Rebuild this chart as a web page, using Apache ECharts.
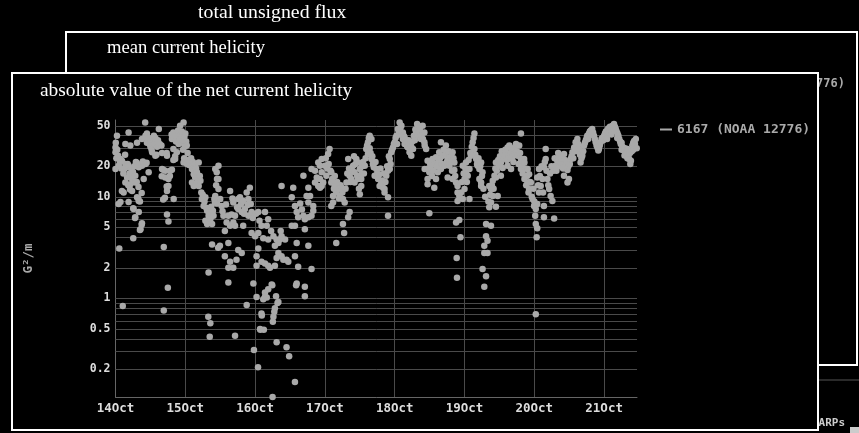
<!DOCTYPE html>
<html><head><meta charset="utf-8">
<script src="https://cdn.jsdelivr.net/npm/echarts@6/dist/echarts.min.js"></script>
<style>html,body{margin:0;padding:0;background:#000;}#c{width:859px;height:433px;}</style>
</head><body><div id="c"></div>
<script>
const seriesName = '6167 (NOAA 12776)';
const yearNum = 2020, monthIdx = 9;
const xStartDay = 14;
const xEnd = [21, 11, 18];
const gridValues = [0.2,0.3,0.4,0.5,0.6,0.7,0.8,0.9,1,2,3,4,5,6,7,8,9,10,20,30,40,50];
const majorTicks = [0.2,0.5,1,2,5,10,20,50];

// [hour of day, |net current helicity| G^2/m]
const oct14 = [[0.0,30.6],[0.0,27.4],[0.0,18.8],[0.1,34],[0.3,24],[0.5,40],[0.6,29],[0.9,25.4],[1.1,20.2],[1.1,8.5],[1.3,3.1],[1.5,22],[1.7,23.5],[1.7,8.9],[2.0,19],[2.2,22.6],[2.2,11.4],[2.5,0.84],[2.7,17],[2.8,11],[3.0,18.8],[3.3,26],[3.4,21],[3.4,33],[3.4,13.8],[3.8,19.5],[4.0,15.5],[4.2,21],[4.4,13],[4.5,43],[4.5,20.2],[4.5,8.9],[4.8,17],[5.0,11.8],[5.1,32],[5.1,16.8],[5.1,13.3],[5.4,19],[5.7,15],[5.7,11.4],[6.0,17.5],[6.1,7.7],[6.1,3.9],[6.2,7.6],[6.5,20],[6.7,6.2],[6.8,16.1],[6.8,13.8],[6.8,6.3],[7.0,22],[7.3,21.6],[7.3,14],[7.4,34],[7.4,9.9],[7.8,9.7],[7.9,12.5],[8.0,19.5],[8.0,9.1],[8.0,7.1],[8.0,20.7],[8.4,4.7],[8.4,9.0],[8.6,4.8],[9.0,10.9],[9.0,5.3],[9.1,37],[9.1,20.2],[9.1,5.5],[9.4,22.3],[9.7,15],[10.2,54],[10.3,40],[10.3,21],[10.7,21.6],[10.8,42],[10.8,34],[11.2,36],[11.4,38],[11.4,17.4],[11.7,33],[12.0,34],[12.0,31],[12.4,29],[12.6,37],[12.6,27.4],[13.0,35],[13.2,40],[13.2,33],[13.7,38],[13.7,25.4],[14.1,26],[14.3,31],[14.6,36],[14.9,46.6],[15.2,33],[15.8,32],[15.9,15.9],[16.0,27],[16.0,18.8],[16.4,18.5],[16.4,9.4],[16.6,3.2],[16.6,0.76],[17.0,9.8],[17.1,18],[17.1,15.5],[17.6,12.6],[17.6,27],[17.7,25.4],[17.7,11.4],[17.7,6.7],[18.0,1.27],[18.2,15],[18.2,12.8],[18.2,5.7],[18.7,16],[18.8,18],[19.3,41],[19.4,37],[19.4,18.5],[19.9,43],[19.9,38],[19.9,29.6],[19.9,23],[20.0,9.5],[20.5,23.5],[20.5,25],[20.8,35],[21.1,40],[21.1,27.4],[21.5,45],[21.7,33],[22.2,50],[22.2,37],[22.5,41],[22.8,44],[23.0,34],[23.2,29],[23.4,54],[23.4,36],[23.4,21.8],[23.6,24],[23.7,39],[23.8,31]];
const oct15 = [[0.0,42],[0.3,35],[0.5,32],[0.6,21],[0.8,27],[1.0,23],[1.3,20.5],[1.7,21.8],[2.0,24],[2.3,18.8],[2.3,13.8],[2.6,22],[2.9,16.7],[2.9,12.8],[3.1,20],[3.4,21],[3.4,15.5],[3.7,19],[4.0,17.4],[4.3,14],[4.6,21.8],[4.6,12.8],[5.0,16],[5.2,14.4],[5.5,11],[5.7,9.5],[6.0,10.5],[6.3,8.1],[6.6,9],[6.9,9.9],[6.9,5.8],[7.2,7.8],[7.5,7.3],[7.5,5.4],[7.9,0.66],[8.0,6.5],[8.0,1.8],[8.3,7],[8.4,0.42],[8.6,6],[8.6,0.57],[8.9,8],[9.2,5.4],[9.2,3.4],[9.5,7.3],[9.7,6.5],[10.0,9.5],[10.2,8.8],[10.3,18.8],[10.3,10.2],[10.6,13],[10.8,17.4],[10.9,15],[10.9,8.6],[11.3,3.15],[11.4,20.2],[11.4,15],[11.4,11.9],[11.9,3.3],[12.0,9.5],[12.5,8.1],[12.8,7.2],[13.1,6.5],[13.6,4.6],[13.6,2.6],[14.0,8.4],[14.2,5.6],[14.8,6.5],[14.8,3.5],[14.8,2.0],[14.8,1.43],[15.4,11.4],[15.4,5.2],[15.4,2.3],[15.9,6.7],[16.2,9.6],[16.5,8.8],[16.5,5.6],[16.5,2.0],[17.1,6.5],[17.1,5.2],[17.1,0.43],[17.6,2.4],[17.8,7.9],[18.2,9.5],[18.2,7.6],[18.2,3.0],[18.8,9.9],[19.1,8.4],[19.4,7.1],[19.4,2.8],[19.9,9.1],[19.9,5.2],[20.2,6.8],[20.5,7.6],[21.1,11],[21.1,0.86],[21.4,8.3],[21.7,9.5],[21.7,6.5],[22.2,12.3],[22.5,8.5],[22.8,7.1],[22.8,4.4],[23.2,6.2],[23.4,1.4],[23.6,0.31]];
const oct16 = [[0.0,4.1],[0.3,6.8],[0.5,2.6],[0.5,2.1],[0.5,1.03],[1.0,0.21],[1.1,7.1],[1.1,4.4],[1.1,3.1],[1.5,5.8],[1.7,0.5],[1.8,0.49],[2.2,5.2],[2.2,2.3],[2.2,0.71],[2.3,0.68],[2.8,3.9],[2.8,0.98],[3.0,0.49],[3.4,7.1],[3.4,2.2],[3.4,1.14],[3.4,1.04],[4.0,5.2],[4.0,1.02],[4.5,6.0],[4.5,3.8],[4.5,2.1],[4.5,1.23],[5.1,2.0],[5.5,4.6],[5.7,1.37],[5.9,1.35],[6.0,0.107],[6.1,0.59],[6.3,4.1],[6.3,0.66],[6.6,0.74],[6.8,3.3],[6.8,2.1],[6.8,0.8],[7.2,1.05],[7.4,3.8],[7.4,2.5],[7.4,0.37],[7.7,0.9],[8.0,3.5],[8.0,2.8],[8.0,0.92],[8.5,3.8],[8.8,4.6],[9.1,4.1],[9.1,2.6],[9.1,12.8],[9.7,2.4],[10.3,3.8],[10.8,2.4],[10.8,0.33],[11.4,2.3],[11.7,0.27],[12.6,9.9],[12.6,5.2],[13.1,12.3],[13.7,8.1],[13.7,5.2],[13.7,2.6],[13.7,0.15],[14.1,1.35],[14.3,7.1],[14.3,3.5],[14.3,1.4],[14.8,6.3],[14.8,2.05],[15.5,8.6],[16.1,7.5],[16.6,16.1],[16.6,6.5],[17.1,6],[17.1,4.8],[17.1,1.3],[17.1,1.05],[17.7,10.2],[18.3,12.3],[18.3,8.8],[18.3,6.3],[18.3,3.3],[18.9,10.2],[19.4,18.8],[19.4,6.5],[19.4,1.95],[20.0,8.1],[20.0,7.3],[20.6,18],[20.6,13.8],[21.2,15.5],[21.7,21.8],[21.7,12.8],[22.3,20.2],[22.3,15],[22.3,12.3],[22.9,17.4],[22.9,12.8],[22.9,23.5],[23.4,13.8]];
const oct17 = [[0.0,20.2],[0.3,24],[0.5,16.1],[0.8,19],[1.1,26.4],[1.3,21],[1.6,29.6],[1.9,18],[2.2,17.4],[2.2,13.8],[2.2,8.1],[2.5,15],[2.8,10.2],[2.8,8.8],[3.1,12],[3.4,12.8],[3.4,16],[3.9,11],[3.9,3.5],[4.2,14],[4.5,11.9],[4.8,9.6],[5.1,10.2],[5.4,13],[5.7,12.3],[6.0,11],[6.2,9.5],[6.2,5.4],[6.6,4.4],[6.8,8.8],[7.1,12],[7.4,13.8],[7.7,17],[8.0,23.5],[8.0,6.3],[8.3,19],[8.5,16.1],[8.5,7.1],[8.8,14],[9.1,15],[9.4,18],[9.7,20.2],[10.0,25],[10.2,17.4],[10.2,13.8],[10.5,21],[10.8,23.5],[11.1,16],[11.4,21.8],[11.4,15],[11.7,12],[12.0,18.8],[12.0,10.6],[12.5,16.7],[12.5,15],[12.5,12.8],[12.8,20],[13.1,22],[13.4,17],[13.7,20.2],[14.0,24],[14.2,29.6],[14.5,32],[14.8,34.4],[14.8,26.4],[15.1,38],[15.4,40],[15.4,30],[15.7,27],[16.0,37],[16.0,23.5],[16.3,25],[16.5,21],[16.8,19.5],[17.1,16.1],[17.4,22],[17.7,18.8],[18.0,17],[18.3,15],[18.6,16.5],[18.8,12.8],[19.1,19],[19.4,13.8],[19.7,14.5],[20.0,12.3],[20.3,17],[20.5,11.9],[20.5,11],[20.8,14],[21.1,16.1],[21.4,20],[21.7,18],[21.7,9.9],[21.7,6.5],[22.0,25],[22.3,18.8],[22.3,23.5],[22.6,21],[22.8,27.4],[23.1,29],[23.4,30.6],[23.7,33]];
const oct18 = [[0.0,34.4],[0.3,38],[0.6,40],[0.8,33],[1.1,46.6],[1.4,44],[1.7,54],[1.7,41],[2.0,48],[2.3,50],[2.5,42],[2.8,43],[2.8,37],[3.1,40],[3.4,38.5],[3.4,33],[3.7,36],[4.0,34.4],[4.3,31],[4.6,30.6],[4.8,36],[5.1,27.4],[5.4,33],[5.7,25.4],[5.7,31],[6.0,35],[6.3,29.6],[6.6,40],[6.9,36],[7.1,46],[7.4,43],[7.7,52],[8.0,50],[8.0,40],[8.3,44],[8.6,46.6],[8.9,38],[9.0,37],[9.2,40],[9.6,50],[9.7,37],[10.2,43],[10.2,34.4],[10.3,31.9],[10.3,18.8],[10.8,29.6],[11.3,22.6],[11.3,15],[11.3,13.3],[11.6,19],[11.9,17.4],[11.9,6.9],[12.2,21],[12.5,20.2],[12.8,16],[13.0,23.5],[13.3,18],[13.6,12.3],[13.9,21],[14.2,24.5],[14.2,15],[14.5,20],[14.8,17.4],[15.0,22],[15.3,27.4],[15.6,24],[15.9,34.4],[15.9,18.8],[16.2,21],[16.5,25.4],[16.8,29],[17.1,20.2],[17.4,26],[17.6,31.9],[17.9,22],[18.2,23.5],[18.2,15.5],[18.5,28],[18.8,20.2],[19.1,22],[19.4,25.4],[19.7,18],[19.9,27.4],[19.9,15],[20.2,24],[20.5,21.8],[20.5,18.4],[20.8,16],[21.1,13.8],[21.1,5.6],[21.3,2.5],[21.4,1.6],[21.6,12.8],[21.6,11],[21.6,9.1],[22.2,10.2],[22.2,5.9],[22.6,4.0],[22.8,11],[23.1,14],[23.4,9.5],[23.4,20.2],[23.7,17]];
const oct19 = [[0.0,11.9],[0.0,15],[0.3,19],[0.5,17.4],[0.5,21.8],[0.8,14],[1.1,16.1],[1.4,23],[1.7,18.8],[1.7,9.5],[2.0,27],[2.2,25.4],[2.5,31],[2.8,34.4],[3.1,38],[3.4,42],[3.4,29.6],[3.7,26],[4.0,23.5],[4.3,21],[4.5,20.2],[4.8,24],[5.1,18.8],[5.1,15],[5.4,20],[5.7,21.8],[5.7,13.8],[5.7,12.8],[6.0,16],[6.2,17.4],[6.2,1.95],[6.5,12],[6.8,3.3],[6.8,2.8],[6.8,1.3],[7.1,10],[7.4,5.4],[7.4,4.1],[7.4,1.65],[7.9,3.7],[7.9,2.8],[8.2,9],[8.5,12.8],[8.5,7.9],[8.8,10.5],[9.1,11.9],[9.1,8.8],[9.1,5.2],[9.4,13],[9.7,14.4],[9.7,10.2],[10.0,12],[10.3,16.1],[10.6,19],[10.8,15.5],[10.8,8.0],[10.8,21.8],[11.1,18],[11.4,10.2],[11.6,23],[11.9,20.2],[12.2,25],[12.5,21.8],[12.5,16.1],[12.8,28],[13.1,19.2],[13.4,24],[13.7,25.4],[14.0,29],[14.3,27],[14.6,23],[14.8,30.6],[14.8,20.2],[15.1,26],[15.4,32],[15.7,24],[16.0,27.4],[16.0,18.8],[16.3,30],[16.6,25],[16.8,22],[17.1,29.6],[17.4,26],[17.7,33],[18.0,28],[18.3,25.4],[18.6,21],[18.8,31.9],[19.1,27],[19.4,42],[19.4,23.5],[19.4,18.8],[19.7,20],[20.0,17],[20.3,22],[20.5,23.5],[20.6,21.8],[20.6,15],[20.9,19],[21.2,13],[21.5,16],[21.7,13.8],[21.7,18.8],[22.0,11],[22.2,16.7],[22.2,11.9],[22.5,14],[22.8,13.8],[23.1,10],[23.4,9.5],[23.7,12],[23.9,8.1]];
const oct20 = [[0.0,9],[0.3,6.5],[0.5,7.6],[0.5,5.4],[0.5,0.7],[0.8,4.0],[1.0,8.5],[1.0,15.5],[1.0,4.9],[1.3,13],[1.6,11],[1.6,18.8],[1.9,16],[2.2,12.8],[2.5,20],[2.8,15],[3.0,11],[3.3,19.5],[3.3,8.1],[3.3,6.3],[3.6,22],[3.9,23.5],[3.9,29.6],[4.2,18],[4.5,15],[4.8,13],[5.1,11.9],[5.4,17],[5.6,10.2],[5.9,20],[6.2,9.1],[6.5,18],[6.8,6.1],[7.0,24],[7.3,20.2],[7.6,18],[7.9,22.6],[8.2,27],[8.5,24.5],[8.8,20],[9.1,21.8],[9.4,24],[9.6,21],[9.9,19],[10.2,26.4],[10.2,16.1],[10.5,23],[10.8,20.2],[11.1,22],[11.4,18.4],[11.4,13.8],[11.7,20],[11.9,15],[12.2,21],[12.5,23.5],[12.8,25],[13.1,27.4],[13.4,24],[13.7,30.6],[14.0,28],[14.2,34.4],[14.5,31],[14.8,37],[15.1,33],[15.4,29.6],[15.7,26],[15.9,21.8],[16.2,24],[16.5,25.4],[16.8,28],[17.1,31.9],[17.4,34],[17.7,36],[18.0,38],[18.2,40],[18.5,37],[18.8,42],[19.1,44],[19.4,45],[19.6,41],[19.9,46.6],[20.2,43],[20.5,40],[20.8,37],[21.1,34.4],[21.4,32],[21.7,30.6],[22.0,28.5],[22.2,29.6],[22.5,32],[22.8,34.4],[23.1,37],[23.4,38],[23.7,36]];
const oct21 = [[0.0,40],[0.3,42],[0.6,44],[0.9,41],[1.0,37],[1.15,45],[1.4,47],[1.7,43],[2.0,49],[2.3,48],[2.5,41],[2.6,45],[2.9,50],[3.2,47],[3.4,52],[3.7,49],[4.0,46.6],[4.3,44],[4.5,38],[4.6,42],[4.9,40],[5.2,37],[5.5,35],[5.7,33],[6.0,34],[6.0,29],[6.3,31],[6.6,30],[6.9,28.5],[7.0,25.5],[7.2,30],[7.5,26.4],[7.8,28],[8.0,29.6],[8.0,24],[8.3,25],[8.6,23.5],[8.9,27],[9.0,21],[9.2,22.6],[9.5,28],[9.7,31.9],[10.0,34],[10.0,29],[10.3,35.5],[10.6,33],[10.9,37],[11.2,30]];

const days = [[14,oct14],[15,oct15],[16,oct16],[17,oct17],[18,oct18],[19,oct19],[20,oct20],[21,oct21]];
const points = [];
days.forEach(([d, arr]) => arr.forEach(([h, v]) => points.push([Date.UTC(yearNum, monthIdx, d) + h * 3600000, v])));

const mono = '"DejaVu Sans Mono", monospace';
const serif = '"Liberation Serif", serif';

const chart = echarts.init(document.getElementById('c'), null, {renderer: 'canvas'});
chart.setOption({
  backgroundColor: '#000',
  animation: false,
  grid: {left: 115.5, top: 120, right: 222, bottom: 36, containLabel: false},
  legend: {
    data: [seriesName], left: 655, top: 118, icon: 'rect', itemWidth: 12, itemHeight: 2,
    textStyle: {color: '#aaa', fontFamily: mono, fontWeight: 'bold', fontSize: 13}
  },
  xAxis: {
    type: 'value',
    min: Date.UTC(yearNum, monthIdx, xStartDay),
    max: Date.UTC(yearNum, monthIdx, xEnd[0], xEnd[1], xEnd[2]),
    interval: 86400000,
    axisLine: {show: true, lineStyle: {color: '#666', width: 1}},
    axisTick: {show: false},
    axisLabel: {
      show: true, showMaxLabel: false, margin: 5,
      color: '#ddd', fontFamily: mono, fontWeight: 'bold', fontSize: 12.5,
      formatter: v => new Date(v).getUTCDate() + 'Oct'
    },
    splitLine: {show: true, showMaxLine: false, lineStyle: {color: '#4a4a4a', width: 1}}
  },
  yAxis: {
    type: 'log', logBase: 10, min: 0.107, max: 57,
    name: 'G²/m', nameLocation: 'middle', nameGap: 80, nameRotate: 90,
    nameTextStyle: {color: '#aaa', fontFamily: mono, fontWeight: 'bold', fontSize: 12.5},
    axisLine: {show: true, lineStyle: {color: '#666', width: 1}},
    axisTick: {show: false},
    axisLabel: {show: false},
    splitLine: {show: false},
    minorSplitLine: {show: false}
  },
  series: [{
    name: seriesName,
    type: 'scatter',
    data: points,
    symbol: 'circle',
    symbolSize: 6.5,
    itemStyle: {color: '#a9a9a9', opacity: 1},
    z: 10,
    markLine: {
      silent: true, symbol: 'none', z: 1, animation: false,
      lineStyle: {color: '#4a4a4a', width: 1, type: 'solid'},
      label: {
        show: true, position: 'start', distance: 5,
        color: '#ddd', fontFamily: mono, fontWeight: 'bold', fontSize: 11.5,
        formatter: p => majorTicks.includes(p.value) ? String(p.value) : ''
      },
      emphasis: {disabled: true},
      data: gridValues.map(v => ({yAxis: v}))
    }
  }],
  graphic: [
    {type: 'text', z: -20, x: 198, y: 13, style: {text: 'total unsigned flux', fill: '#fff', fontFamily: serif, fontSize: 19.8, verticalAlign: 'middle'}},
    {type: 'rect', z: -19, shape: {x: 66, y: 32, width: 791, height: 333}, style: {fill: '#000', stroke: '#fff', lineWidth: 2}},
    {type: 'text', z: -18, x: 107, y: 48, style: {text: 'mean current helicity', fill: '#fff', fontFamily: serif, fontSize: 18.6, verticalAlign: 'middle'}},
    {type: 'text', z: -18, x: 845, y: 84, style: {text: '— 6167 (NOAA 12776)', fill: '#aaa', fontFamily: mono, fontWeight: 'bold', fontSize: 12, align: 'right', verticalAlign: 'middle'}},
    {type: 'line', z: -18, shape: {x1: 818, y1: 380, x2: 859, y2: 380}, style: {stroke: '#555', lineWidth: 1}},
    {type: 'text', z: -18, x: 845, y: 423, style: {text: 'HARPs', fill: '#ccc', fontFamily: mono, fontWeight: 'bold', fontSize: 11, align: 'right', verticalAlign: 'middle'}},
    {type: 'rect', z: -18, shape: {x: 850, y: 427, width: 9, height: 6}, style: {fill: '#ccc'}},
    {type: 'rect', z: -10, shape: {x: 12, y: 73, width: 806, height: 357}, style: {fill: '#000', stroke: '#fff', lineWidth: 2}},
    {type: 'text', z: -9, x: 40, y: 91, style: {text: 'absolute value of the net current helicity', fill: '#fff', fontFamily: serif, fontSize: 19.4, verticalAlign: 'middle'}}
  ]
});
</script>
</body></html>
